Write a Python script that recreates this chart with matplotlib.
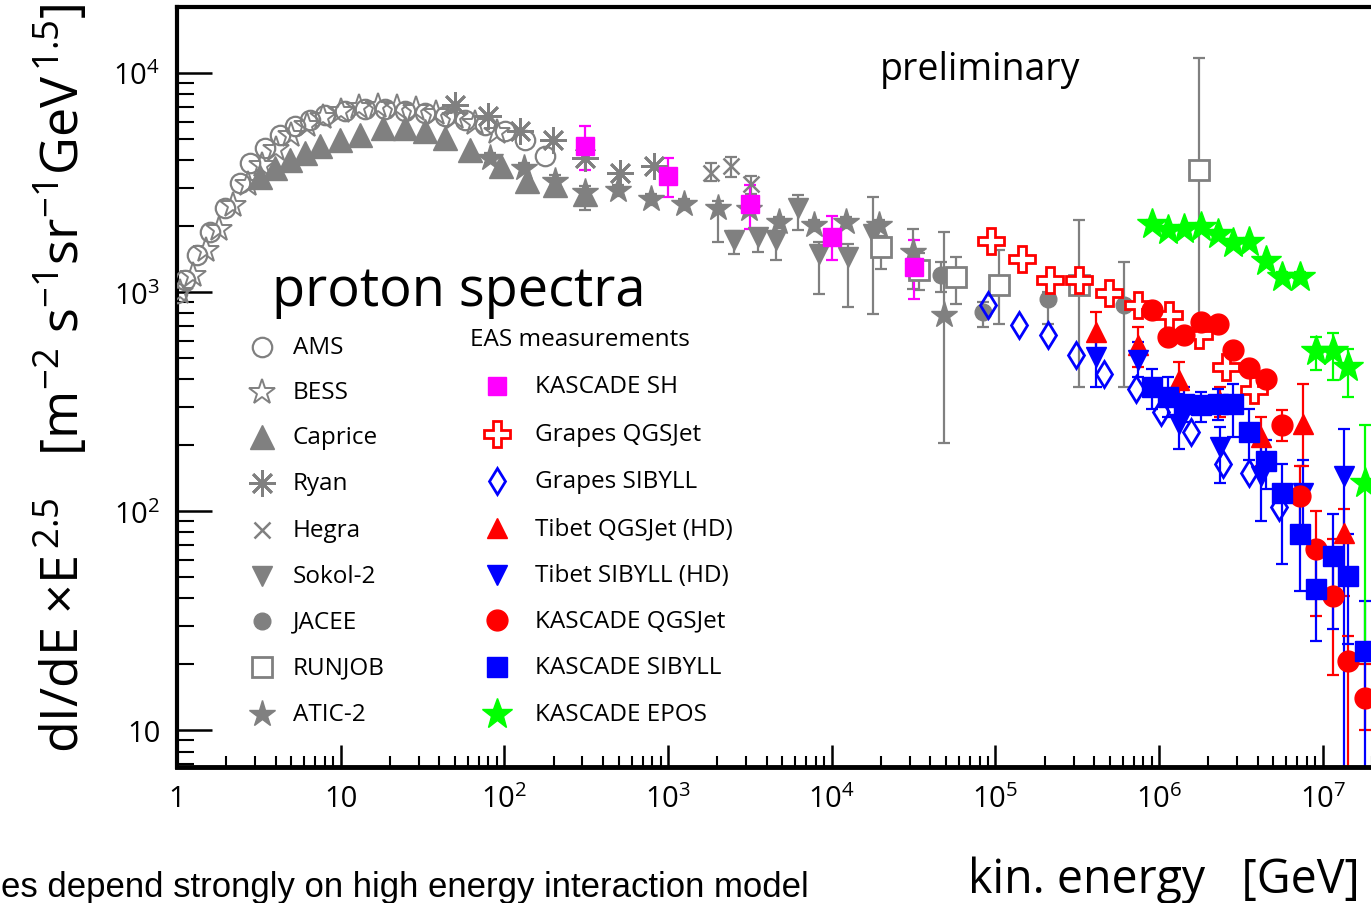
import matplotlib
matplotlib.use("Agg")
import matplotlib.pyplot as plt
from matplotlib.ticker import FixedLocator, LogLocator, NullFormatter
import numpy as np

# ---- direct measurements (GeV, flux x E^2.5) ----
ams_E = [1.0, 1.12, 1.33, 1.59, 1.97, 2.43, 2.8, 3.45, 4.27, 5.27, 6.5, 8.0,
         10.7, 14.1, 18.7, 24.8, 32.9, 43.5, 57.7, 76.5, 101, 134, 178]
ams_F = [990, 1135, 1473, 1874, 2432, 3162, 3900, 4560, 5225, 5740, 6110, 6440,
         6710, 6860, 6860, 6710, 6580, 6380, 6110, 5800, 5450, 4960, 4200]

bess_E = [1.05, 1.25, 1.5, 1.8, 2.2, 2.7, 3.3, 4.0, 5.0, 6.2, 7.8, 10, 13, 17,
          22, 29, 38, 50, 66, 90]
bess_F = [1000, 1200, 1560, 1950, 2500, 3100, 3800, 4500, 5200, 5800, 6300,
          6700, 7000, 7100, 7000, 6850, 6600, 6300, 5900, 5400]

caprice_E = [3.2, 3.97, 4.91, 6.06, 7.5, 9.9, 13.2, 18.2, 24.8, 32.9, 43.5,
             62, 95, 138, 205, 313]
caprice_F = [3335, 3700, 4025, 4330, 4660, 4960, 5225, 5620, 5620, 5450, 5070,
             4470, 3780, 3230, 3065, 2790]

ryan_E = [50, 79, 125, 199, 313, 512, 815]
ryan_F = [7160, 6380, 5450, 4960, 4110, 3510, 3780]

hegra_E = [1820, 2410, 3200]
hegra_F = [3510, 3780, 3100]
hegra_lo = [3200, 3350, 2800]
hegra_hi = [3870, 4150, 3400]

sokol_E = [2515, 3525, 4540, 6195, 8320, 12530, 17800]
sokol_F = [1722, 1778, 1722, 2432, 1489, 1442, 1835]
sokol_lo = [1489, 1520, 1396, 1914, 980, 855, 794]
sokol_hi = [1900, 1950, 1900, 2760, 1700, 1650, 2704]

jacee_E = [46400, 83900, 209500, 611000]
jacee_F = [1194, 811, 930, 873]
jacee_lo = [1000, 693, 716, 370]
jacee_hi = [1368, 900, 1000, 1368]

runjob_E = [19950, 34060, 57300, 105000, 324000, 1757000]
runjob_F = [1603, 1259, 1170, 1076, 1076, 3589]
runjob_lo = [1274, 1021, 881, 716, 370, 611]
runjob_hi = [1800, 1500, 1442, 1552, 2123, 11700]

atic_E = [82, 131, 205, 313, 498, 782, 1245, 2010, 3105, 4740, 7760, 12190,
          19370, 31280, 48400]
atic_F = [4110, 3700, 3230, 2850, 2910, 2650, 2512, 2432, 2382, 2080, 2018,
          2080, 2018, 1520, 786]
atic_lo = [3900, 3500, 3050, 2360, 2750, 2500, 2380, 1687, 2250, 1960, 1900,
           1960, 1900, 1033, 204]
atic_hi = [4330, 3900, 3420, 3050, 3080, 2800, 2650, 2600, 2520, 2200, 2140,
           2200, 2140, 1932, 1874]

# ---- EAS measurements ----
kas_sh_E = [313, 1000, 3150, 10000, 31760]
kas_sh_F = [4660, 3400, 2512, 1778, 1300]
kas_sh_lo = [3620, 2704, 1932, 1396, 930]
kas_sh_hi = [5740, 4110, 3065, 2213, 1722]

grapes_qgs_E = [93800, 145000, 215000, 324000, 495000, 745000, 1150000,
                1757000, 2570000, 3810000]
grapes_qgs_F = [1706, 1413, 1135, 1135, 989, 873, 786, 638, 456, 359]

grapes_sib_E = [89900, 139000, 209500, 310500, 461000, 723000, 1028000,
                1570000, 2462000, 3550000, 5420000]
grapes_sib_F = [873, 708, 638, 517, 424, 362, 285, 231, 164, 149, 105]

tibet_E = [4.1e5, 7.45e5, 1.33e6, 2.36e6, 4.2e6, 7.6e6, 1.34e7]
tibet_qgs_F = [658, 574, 398, 316, 219, 251, 79.4]
tibet_qgs_lo = [551, 456, 333, 270, 160, 160, 41]
tibet_qgs_hi = [811, 693, 481, 370, 270, 382, 102]
tibet_sib_F = [507, 491, 251, 197, 144, 121, 144]
tibet_sib_lo = [370, 411, 193, 134, 90, 80, 1]
tibet_sib_hi = [605, 593, 344, 243, 212, 172, 238]

kas_E = [9.06e5, 1.135e6, 1.42e6, 1.81e6, 2.30e6, 2.84e6, 3.55e6, 4.51e6,
         5.65e6, 7.28e6, 9.12e6, 1.16e7, 1.43e7, 1.82e7]
kas_qgs_F = [828, 624, 638, 731, 716, 545, 452, 403, 248, 117, 67.1, 41.1, 20.8, 14.1]
kas_qgs_lo = [790, 595, 610, 700, 685, 520, 432, 385, 210, 85.5, 33.3, 17.8, 1, 10]
kas_qgs_hi = [868, 654, 668, 765, 748, 571, 474, 422, 291, 160, 100, 74.6, 27, 20]
kas_sib_F = [370, 333, 310, 306, 310, 310, 231, 169, 121, 78.5, 44.2, 62.4, 50.7, 23.1]
kas_sib_lo = [294, 270, 256, 256, 262, 219, 172, 126, 57.4, 43.3, 25.6, 29.1, 24.8, 1]
kas_sib_hi = [447, 411, 370, 351, 362, 382, 294, 212, 164, 126, 62.4, 96.9, 78.5, 39]
kas_epos_F = [2037, 1914, 1932, 1972, 1835, 1671, 1687, 1383, 1170, 1170, 540, 540, 456, 135]
kas_epos_lo = [1950, 1830, 1850, 1890, 1750, 1600, 1610, 1320, 1115, 1115, 442, 398, 333, 20.8]
kas_epos_hi = [2130, 2000, 2020, 2060, 1920, 1750, 1770, 1450, 1230, 1230, 624, 652, 551, 248]

x_ticks = [1, 10, 1e2, 1e3, 1e4, 1e5, 1e6, 1e7]
x_labels = ["1", "10", "$10^{2}$", "$10^{3}$", "$10^{4}$", "$10^{5}$", "$10^{6}$", "$10^{7}$"]
y_ticks = [10, 1e2, 1e3, 1e4]
y_labels = ["10", "$10^{2}$", "$10^{3}$", "$10^{4}$"]

GRAY = "#808080"
RED = "#ff0000"
BLUE = "#0000ff"
GREEN = "#00ff00"
MAGENTA = "#ff00ff"

STYLE = {
    "AMS": dict(marker="o", ms=14, mfc="none", mec=GRAY, mew=1.6),
    "BESS": dict(marker="*", ms=19, mfc="none", mec=GRAY, mew=1.4),
    "Caprice": dict(marker="^", ms=17, mfc=GRAY, mec=GRAY),
    "Ryan": dict(marker=(8, 2, 0), ms=19, mfc=GRAY, mec=GRAY, mew=2),
    "Hegra": dict(marker="x", ms=11, mfc=GRAY, mec=GRAY, mew=1.8),
    "Sokol-2": dict(marker="v", ms=15, mfc=GRAY, mec=GRAY),
    "JACEE": dict(marker="o", ms=12, mfc=GRAY, mec=GRAY),
    "RUNJOB": dict(marker="s", ms=14, mfc="white", mec=GRAY, mew=2),
    "ATIC-2": dict(marker="*", ms=20, mfc=GRAY, mec=GRAY),
    "KASCADE SH": dict(marker="s", ms=13, mfc=MAGENTA, mec=MAGENTA),
    "Grapes QGSJet": dict(marker="P", ms=19, mfc="white", mec=RED, mew=2),
    "Grapes SIBYLL": dict(marker="d", ms=13, mfc="none", mec=BLUE, mew=2),
    "Tibet QGSJet (HD)": dict(marker="^", ms=14, mfc=RED, mec=RED),
    "Tibet SIBYLL (HD)": dict(marker="v", ms=14, mfc=BLUE, mec=BLUE),
    "KASCADE QGSJet": dict(marker="o", ms=15, mfc=RED, mec=RED),
    "KASCADE SIBYLL": dict(marker="s", ms=15, mfc=BLUE, mec=BLUE),
    "KASCADE EPOS": dict(marker="*", ms=23, mfc=GREEN, mec=GREEN),
}

W, H = 1371, 904
TXT = ["Open Sans", "DejaVu Sans"]
plt.rcParams["mathtext.fontset"] = "custom"
plt.rcParams["mathtext.rm"] = "Open Sans"
plt.rcParams["mathtext.it"] = "Open Sans:italic"
plt.rcParams["mathtext.bf"] = "Open Sans:bold"


def fx(px):
    return px / W


def fy(py):
    return 1 - py / H


fig = plt.figure(figsize=(W / 100, H / 100), dpi=100)
ax = fig.add_axes([fx(177), fy(768), fx(1385) - fx(177), fy(8) - fy(768)])


def draw(name, E, F, lo=None, hi=None):
    st = STYLE[name]
    color = st["mec"]
    if lo is not None:
        F_ = np.asarray(F, float)
        yerr = [F_ - np.asarray(lo, float), np.asarray(hi, float) - F_]
        ax.errorbar(E, F, yerr=yerr, fmt="none", ecolor=color, elinewidth=1.6,
                    capsize=4.5, capthick=1.6, zorder=2)
    ax.plot(E, F, linestyle="none", zorder=3, **st)


draw("AMS", ams_E, ams_F)
draw("BESS", bess_E, bess_F)
draw("Caprice", caprice_E, caprice_F)
draw("Ryan", ryan_E, ryan_F)
draw("Hegra", hegra_E, hegra_F, hegra_lo, hegra_hi)
draw("Sokol-2", sokol_E, sokol_F, sokol_lo, sokol_hi)
draw("ATIC-2", atic_E, atic_F, atic_lo, atic_hi)
draw("JACEE", jacee_E, jacee_F, jacee_lo, jacee_hi)
draw("RUNJOB", runjob_E, runjob_F, runjob_lo, runjob_hi)
draw("KASCADE SH", kas_sh_E, kas_sh_F, kas_sh_lo, kas_sh_hi)
draw("Grapes QGSJet", grapes_qgs_E, grapes_qgs_F)
draw("Grapes SIBYLL", grapes_sib_E, grapes_sib_F)
draw("Tibet QGSJet (HD)", tibet_E, tibet_qgs_F, tibet_qgs_lo, tibet_qgs_hi)
draw("Tibet SIBYLL (HD)", tibet_E, tibet_sib_F, tibet_sib_lo, tibet_sib_hi)
draw("KASCADE QGSJet", kas_E, kas_qgs_F, kas_qgs_lo, kas_qgs_hi)
draw("KASCADE SIBYLL", kas_E, kas_sib_F, kas_sib_lo, kas_sib_hi)
draw("KASCADE EPOS", kas_E, kas_epos_F, kas_epos_lo, kas_epos_hi)

ax.set_xscale("log")
ax.set_yscale("log")
ax.set_xlim(1, 2.4e7)
ax.set_ylim(6.8, 2.0e4)

ax.xaxis.set_major_locator(FixedLocator(x_ticks))
ax.set_xticklabels(x_labels)
ax.xaxis.set_minor_locator(LogLocator(base=10, subs=np.arange(2, 10), numticks=20))
ax.xaxis.set_minor_formatter(NullFormatter())
ax.yaxis.set_major_locator(FixedLocator(y_ticks))
ax.set_yticklabels(y_labels)
ax.yaxis.set_minor_locator(LogLocator(base=10, subs=np.arange(2, 10), numticks=20))
ax.yaxis.set_minor_formatter(NullFormatter())

ax.tick_params(axis="x", which="major", direction="in", length=16, width=1.8, pad=12,
               labelsize=21)
ax.tick_params(axis="x", which="minor", direction="in", length=8, width=1.5)
ax.tick_params(axis="y", which="major", direction="in", length=25, width=1.8, pad=12,
               labelsize=21)
ax.tick_params(axis="y", which="minor", direction="in", length=12, width=1.5)
for t in ax.get_xticklabels() + ax.get_yticklabels():
    t.set_family(TXT)

ax.spines["left"].set_linewidth(3)
ax.spines["bottom"].set_linewidth(3.5)
ax.spines["top"].set_linewidth(3)
ax.spines["right"].set_visible(False)

# axis titles
fig.text(fx(62), fy(378),
         r"dI/dE $\times$E$^{\,2.5}$   [m$^{-2}$ s$^{-1}$sr$^{-1}$GeV$^{\,1.5}$]",
         rotation=90, ha="center", va="center", fontsize=37.5, family=TXT)
fig.text(fx(968), fy(893), "kin. energy   [GeV]", ha="left", va="baseline",
         fontsize=33.5, family=TXT)
fig.text(fx(1), fy(897), "es depend strongly on high energy interaction model",
         ha="left", va="baseline", fontsize=25, family="Liberation Sans")

fig.text(fx(272), fy(306), "proton spectra", fontsize=39, family=TXT, va="baseline")
fig.text(fx(880), fy(80), "preliminary", fontsize=27, family=TXT, va="baseline")
fig.text(fx(470), fy(340), "EAS measurements", fontsize=17.5, family=TXT, va="center")

left_col = ["AMS", "BESS", "Caprice", "Ryan", "Hegra", "Sokol-2", "JACEE", "RUNJOB", "ATIC-2"]
left_rows = [348, 393, 438, 484, 531, 577, 622, 668, 715]
right_col = ["KASCADE SH", "Grapes QGSJet", "Grapes SIBYLL", "Tibet QGSJet (HD)",
             "Tibet SIBYLL (HD)", "KASCADE QGSJet", "KASCADE SIBYLL", "KASCADE EPOS"]
right_rows = [387, 435, 482, 529, 576, 621, 668, 715]

for names, rows, mx, tx in ((left_col, left_rows, 262, 293), (right_col, right_rows, 497, 535)):
    for name, row in zip(names, rows):
        ax.plot([fx(mx)], [fy(row)], transform=fig.transFigure, clip_on=False,
                linestyle="none", **STYLE[name])
        fig.text(fx(tx), fy(row), name, fontsize=17.5, family=TXT, va="center")

fig.savefig("out.png", dpi=100, facecolor="white")
